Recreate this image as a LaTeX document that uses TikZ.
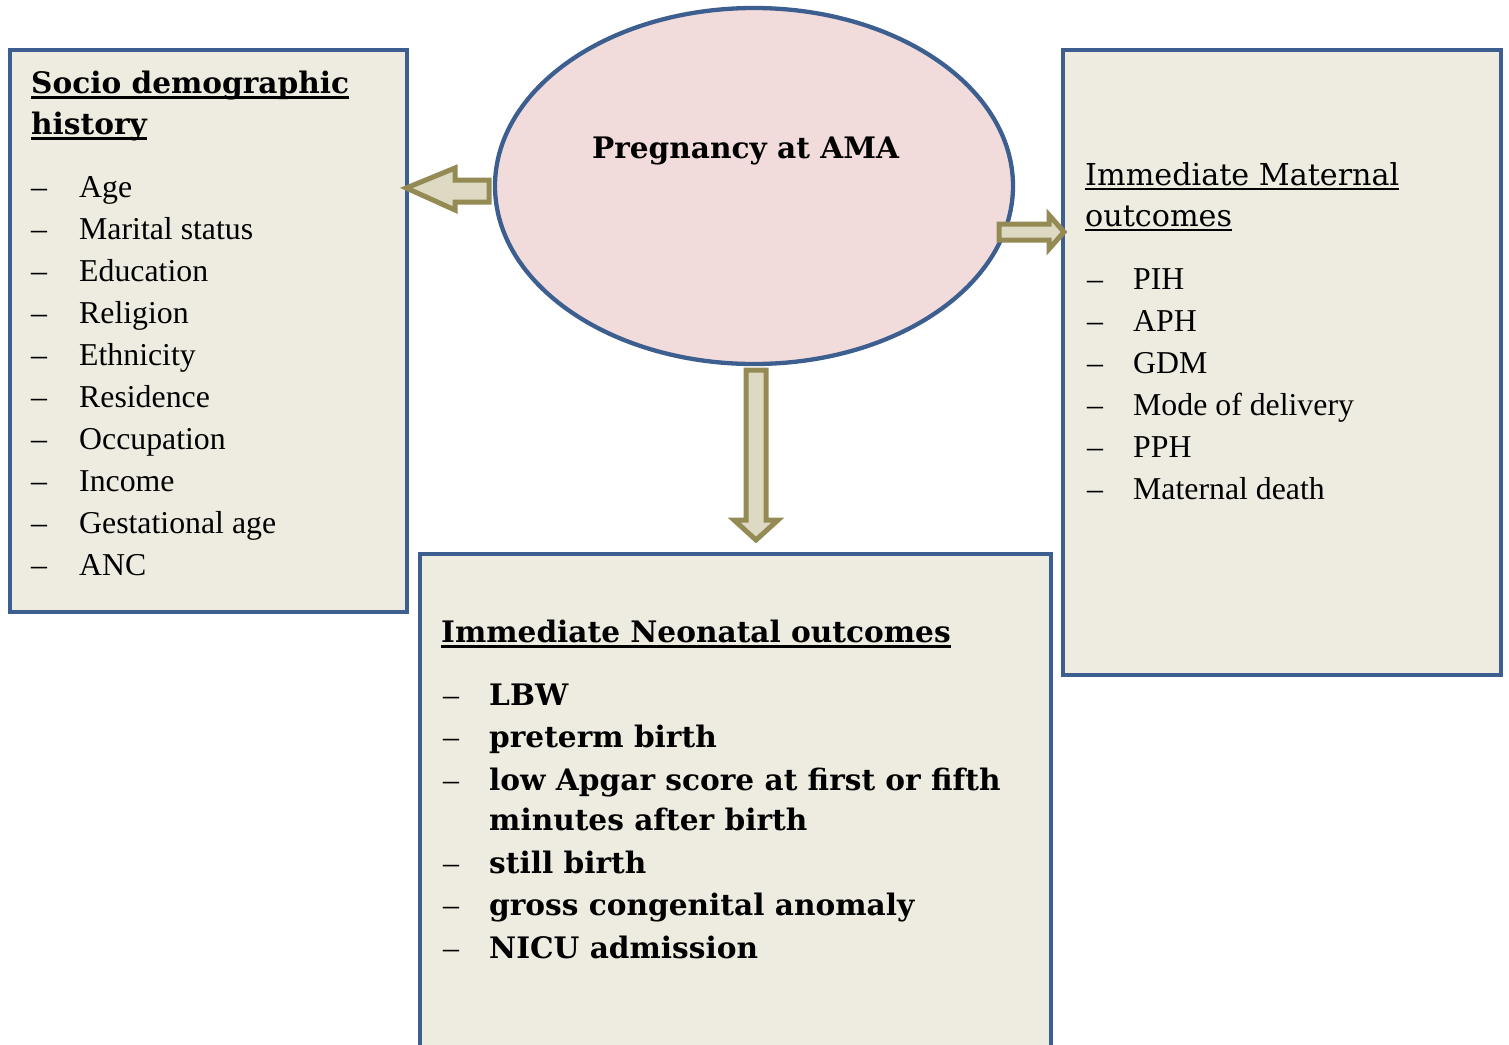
\documentclass[tikz,border=0pt]{standalone}
\usepackage{fontspec}
\setmainfont{Liberation Serif}
\newfontfamily\schola{DejaVu Serif}
\usetikzlibrary{shapes.geometric,calc}
\definecolor{bordblue}{HTML}{3C5F90}
\definecolor{boxfill}{HTML}{EEEBE0}
\definecolor{ellfill}{HTML}{F2DCDB}
\definecolor{arrfill}{HTML}{DDD9C3}
\definecolor{arrline}{HTML}{948A54}
\newlength\myulw
\newcommand\myulb[1]{\settowidth\myulw{#1}\rlap{\rule[-6pt]{\myulw}{2.6pt}}#1}
\newcommand\myulr[1]{\settowidth\myulw{#1}\rlap{\rule[-5pt]{\myulw}{2.2pt}}#1}
\tikzset{
  box/.style={draw=bordblue, fill=boxfill, line width=4.3pt, anchor=north west, inner sep=0pt},
  blockarrow/.style={draw=arrline, fill=arrfill, line width=5pt, line join=miter},
  item/.style={anchor=base west, inner sep=0pt, font=\fontsize{31.8}{38}\selectfont},
  dashitem/.style={anchor=base west, inner sep=0pt, font=\fontsize{31.8}{38}\selectfont},
  head/.style={anchor=base west, inner sep=0pt, font=\schola\bfseries\fontsize{29.6}{34}\selectfont},
  headreg/.style={anchor=base west, inner sep=0pt, font=\schola\fontsize{30.2}{34}\selectfont},
}
\begin{document}
\begin{tikzpicture}[x=1pt,y=-1pt]
\useasboundingbox (0,0) rectangle (1509,1044);
% boxes
\node[box, minimum width=397pt, minimum height=562pt] (socio) at (8,48) {};
\node[box, minimum width=438pt, minimum height=625pt] (mat) at (1061,48) {};
\node[box, minimum width=631pt, minimum height=520pt] (neo) at (418,552) {};
% ellipse
\node[ellipse, draw=bordblue, fill=ellfill, line width=4.3pt, minimum width=518pt, minimum height=356pt, inner sep=0pt] (preg) at (754,186) {};
\node[anchor=base, inner sep=0pt, font=\schola\bfseries\fontsize{29.6}{34}\selectfont] (pregtxt) at (745.5,158) {Pregnancy at AMA};
% arrows
\coordinate (lt) at ($(socio.east |- 0,188)+(-3,0)$);
\draw[blockarrow] (lt) -- (455,168) -- (455,180) -- (489,180) -- (489,202) -- (455,202) -- (455,210) -- cycle;
\coordinate (rt) at ($(mat.west |- 0,232)+(3,0)$);
\draw[blockarrow] (rt) -- (1049,215) -- (1049,224) -- (999,224) -- (999,240) -- (1049,240) -- (1049,249) -- cycle;
\coordinate (dt) at (756,540);
\draw[blockarrow] (dt) -- (734,520) -- (746,520) -- (746,370) -- (766,370) -- (766,520) -- (778,520) -- cycle;
% left box text
\node[head] (sh1) at (31,93) {\myulb{Socio demographic}};
\node[head] (sh2) at (31,134) {\myulb{history}};
\foreach \t [count=\i] in {Age,Marital status,Education,Religion,Ethnicity,Residence,Occupation,Income,Gestational age,ANC}{
  \node[dashitem] (sd\i) at (31,{155+42*\i}) {–};
  \node[item] (si\i) at (79,{155+42*\i}) {\t};
}
% right box text
\node[headreg] (mh1) at (1085,185) {\myulr{Immediate Maternal}};
\node[headreg] (mh2) at (1085,226) {\myulr{outcomes}};
\foreach \t [count=\i] in {PIH,APH,GDM,Mode of delivery,PPH,Maternal death}{
  \node[dashitem] (md\i) at (1087,{247+42*\i}) {–};
  \node[item] (mi\i) at (1133,{247+42*\i}) {\t};
}
% bottom box text
\node[head] (nh) at (441,642) {\myulb{Immediate Neonatal outcomes}};
\foreach \t/\y [count=\i] in {LBW/705,preterm birth/747,low Apgar score at first or fifth/790,still birth/873,gross congenital anomaly/915,NICU admission/958}{
  \node[dashitem] (nd\i) at (443,\y) {–};
  \node[head] (ni\i) at (489,\y) {\t};
}
\node[head] (ni3b) at (489,830) {minutes after birth};
\end{tikzpicture}
\end{document}
